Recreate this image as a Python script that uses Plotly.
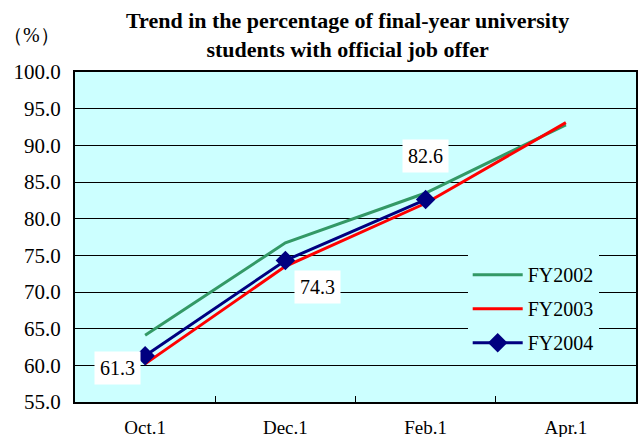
import plotly.graph_objects as go

categories = ["Oct.1", "Dec.1", "Feb.1", "Apr.1"]
fy2002 = [64.1, 76.7, 83.5, 92.8]
fy2003 = [60.2, 73.5, 82.1, 93.1]
fy2004 = [61.3, 74.3, 82.6]
y_ticks = [55, 60, 65, 70, 75, 80, 85, 90, 95, 100]

SERIF = "Liberation Serif"

fig = go.Figure()
fig.add_trace(go.Scatter(x=categories, y=fy2002, name="FY2002", mode="lines",
                         line=dict(color="#339966", width=3), legendgroup="a"))
fig.add_trace(go.Scatter(x=categories, y=fy2003, name="FY2003", mode="lines",
                         line=dict(color="#FF0000", width=3), legendgroup="b"))
fig.add_trace(go.Scatter(x=categories[:3], y=fy2004, name="FY2004", mode="lines+markers",
                         line=dict(color="#000080", width=3),
                         marker=dict(symbol="diamond", size=15, color="#000080"),
                         legendgroup="c"))

shifts = [(-28, -12), (32, -27), (0, 44)]
for cat, val, (dx, dy) in zip(categories, fy2004, shifts):
    fig.add_annotation(x=cat, y=val, text=f"{val:.1f}", showarrow=False,
                       xshift=dx, yshift=dy, bgcolor="white", borderpad=5,
                       font=dict(family=SERIF, size=20, color="black"))

fig.add_annotation(xref="paper", yref="paper", x=0.485, y=1.0, yshift=37,
                   yanchor="middle",
                   text="<b>Trend in the percentage of final-year university<br>students with official job offer</b>",
                   showarrow=False, font=dict(family=SERIF, size=22, color="black"))
fig.add_annotation(xref="paper", yref="paper", x=-0.077, y=1.0, yshift=37,
                   xanchor="center", yanchor="middle",
                   text="（%）", showarrow=False,
                   font=dict(family=SERIF, size=20, color="black"))

fig.update_layout(
    width=638, height=437,
    margin=dict(l=75, r=2, t=72, b=35),
    paper_bgcolor="white", plot_bgcolor="#CCFFFF",
    showlegend=True,
    legend=dict(x=0.70, y=0.445, xanchor="left", yanchor="top",
                bgcolor="#CCFFFF", borderwidth=0,
                font=dict(family=SERIF, size=20, color="black"),
                traceorder="grouped", tracegroupgap=5, itemwidth=50),
    font=dict(family=SERIF, color="black"),
)
fig.update_xaxes(type="category", showgrid=False, showline=True, linecolor="black",
                 linewidth=2, mirror=True, ticks="inside", tickson="boundaries",
                 ticklen=6, tickcolor="black", range=[-0.5, 3.5],
                 ticklabelstandoff=7, automargin=False,
                 tickfont=dict(family=SERIF, size=19, color="black"))
fig.update_yaxes(range=[55, 100], tickvals=y_ticks, tickformat=".1f",
                 showgrid=True, gridcolor="black", gridwidth=1,
                 showline=True, linecolor="black", linewidth=2, mirror=True,
                 ticks="outside", ticklen=0, ticklabelstandoff=8, zeroline=False,
                 automargin=False,
                 tickfont=dict(family=SERIF, size=21, color="black"))

fig.write_html("out.html", config={"displayModeBar": False},
               post_script="document.body.style.margin='0';")
